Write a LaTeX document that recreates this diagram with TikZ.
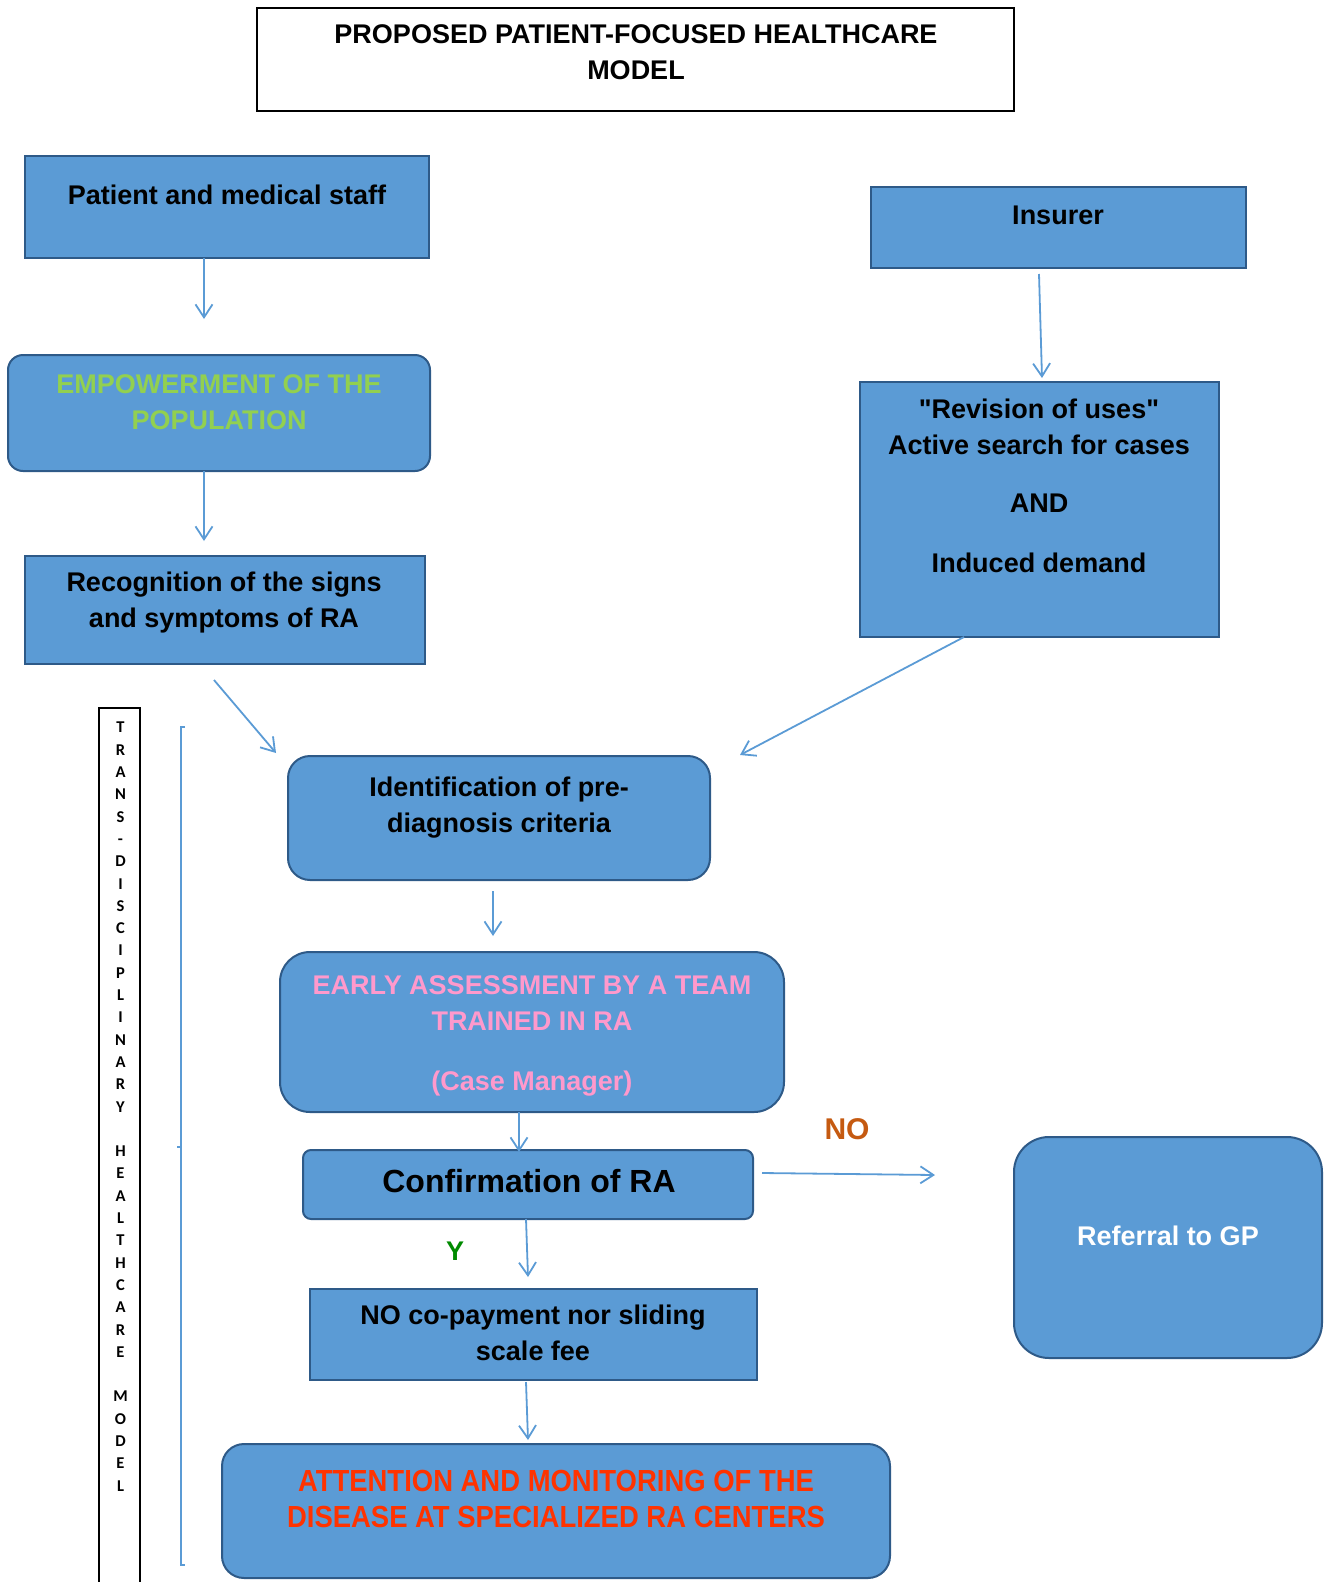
\documentclass[tikz,border=0pt]{standalone}
\usepackage{fontspec}
\setmainfont{Liberation Sans}[Ligatures=TeXOff]
\newfontfamily\vfont{Carlito}
\newfontfamily\narrowfont{Liberation Sans}[FakeStretch=0.9]
\usetikzlibrary{arrows.meta}
\definecolor{boxfill}{HTML}{5B9BD5}
\definecolor{boxline}{HTML}{2E5A88}
\definecolor{arrowc}{HTML}{5B9BD5}
\definecolor{greentxt}{HTML}{92D050}
\definecolor{pinktxt}{HTML}{FF99CC}
\definecolor{redtxt}{HTML}{FF3300}
\definecolor{notxt}{HTML}{C55A11}
\definecolor{ytxt}{HTML}{008A00}
\tikzset{
  box/.style={draw=boxline, fill=boxfill, line width=2pt, inner sep=0pt, outer sep=0pt},
  rbox/.style={box, rounded corners=#1},
  txt/.style={align=center, inner sep=0pt, font=\bfseries\fontsize{27}{36}\selectfont},
  conn/.style={draw=arrowc, line width=1.8pt, -{Straight Barb[length=13pt,width=17pt,line width=1.8pt]}},
}
\begin{document}
\begin{tikzpicture}[x=1pt,y=-1pt]
\useasboundingbox (0,0) rectangle (1325,1582);
% title
\node[draw=black, fill=white, line width=1.6pt, minimum width=757pt, minimum height=103pt, inner sep=0pt] (title) at (635.5,59.5) {};
\node[txt] (titletxt) at (636,52) {PROPOSED PATIENT-FOCUSED HEALTHCARE\\MODEL};
% left column
\node[box, minimum width=404pt, minimum height=102pt] (patient) at (227,207) {};
\node[txt] (patienttxt) at (227,195) {Patient and medical staff};
\node[rbox=15pt, minimum width=422pt, minimum height=116pt] (empower) at (219,413) {};
\node[txt, text=greentxt] (empowertxt) at (219,402) {EMPOWERMENT OF THE\\POPULATION};
\node[box, minimum width=400pt, minimum height=108pt] (recog) at (225,610) {};
\node[txt] (recogtxt) at (224,603) {Recognition of the signs\\and symptoms of RA};
% right column
\node[box, minimum width=375pt, minimum height=81pt] (insurer) at (1058.5,227.5) {};
\node[txt] (insurertxt) at (1058,215) {Insurer};
\node[box, minimum width=359pt, minimum height=255pt] (revision) at (1039.5,509.5) {};
\node[txt, anchor=north] (revisiontxt) at (1039,399) {"Revision of uses"\\Active search for cases\\[22pt]AND\\[24pt]Induced demand};
% center column
\node[rbox=22pt, minimum width=422pt, minimum height=124pt] (ident) at (499,818) {};
\node[txt] (identtxt) at (499,808) {Identification of pre-\\diagnosis criteria};
\node[rbox=30pt, minimum width=504pt, minimum height=160pt] (early) at (532,1032) {};
\node[txt, text=pinktxt, anchor=north] (earlytxt) at (532,975) {EARLY ASSESSMENT BY A TEAM\\TRAINED IN RA\\[24pt](Case Manager)};
\node[rbox=8pt, minimum width=450pt, minimum height=69pt] (confirm) at (528,1184.5) {};
\node[txt, font=\bfseries\fontsize{32}{38}\selectfont] (confirmtxt) at (529,1181) {Confirmation of RA};
\node[box, minimum width=447pt, minimum height=91pt] (copay) at (533.5,1334.5) {};
\node[txt] (copaytxt) at (533,1333) {NO co-payment nor sliding\\scale fee};
\node[rbox=22pt, minimum width=668pt, minimum height=134pt] (attention) at (556,1511) {};
\node[txt, text=redtxt, font=\narrowfont\bfseries\fontsize{30.5}{36.5}\selectfont] (attentiontxt) at (556,1499) {ATTENTION AND MONITORING OF THE\\DISEASE AT SPECIALIZED RA CENTERS};
\node[rbox=35pt, minimum width=308pt, minimum height=221pt] (referral) at (1168,1247.5) {};
\node[txt, text=white] (referraltxt) at (1168,1236) {Referral to GP};
% labels
\node[txt, text=notxt, font=\bfseries\fontsize{30}{36}\selectfont] (nolbl) at (847,1129) {NO};
\node[txt, text=ytxt, font=\bfseries\fontsize{27}{32}\selectfont] (ylbl) at (455,1251) {Y};
% connectors
\coordinate (a1s) at (204,258); \coordinate (a1e) at (204,319);
\draw[conn] (patient.south -| a1s) -- (a1e);
\coordinate (a2e) at (204,541);
\draw[conn] (empower.south -| a2e) -- (a2e);
\coordinate (a3s) at (1039,274); \coordinate (a3e) at (1042,378);
\draw[conn] (a3s) -- (a3e);
\coordinate (a4s) at (214,680); \coordinate (a4e) at (276,753);
\draw[conn] (a4s) -- (a4e);
\coordinate (a5s) at (964,637); \coordinate (a5e) at (740,755);
\draw[conn] (a5s) -- (a5e);
\coordinate (a6s) at (493,891); \coordinate (a6e) at (493,936);
\draw[conn] (a6s) -- (a6e);
\coordinate (a7e) at (519,1152);
\draw[conn] (early.south -| a7e) -- (a7e);
\coordinate (a8s) at (526,1219); \coordinate (a8e) at (528,1277);
\draw[conn] (a8s) -- (a8e);
\coordinate (a9s) at (762,1173); \coordinate (a9e) at (935,1175);
\draw[conn] (a9s) -- (a9e);
\coordinate (a10s) at (526,1382); \coordinate (a10e) at (528,1440);
\draw[conn] (a10s) -- (a10e);
% vertical bar
\draw[black, line width=2pt] (99,1600) -- (99,708) -- (140,708) -- (140,1600);
\node[align=center, inner sep=0pt, anchor=north, font=\vfont\bfseries\fontsize{16.5}{22.3}\selectfont] (vtext) at (120.5,722) {T\\R\\A\\N\\S\\-\\D\\I\\S\\C\\I\\P\\L\\I\\N\\A\\R\\Y\\~\\H\\E\\A\\L\\T\\H\\C\\A\\R\\E\\~\\M\\O\\D\\E\\L};
% bracket
\draw[arrowc, line width=1.3pt] (185,727) -- (181,727) -- (181,1565) -- (185,1565);
\draw[arrowc, line width=1.3pt] (181,1147) -- (177,1147);
\end{tikzpicture}
\end{document}
